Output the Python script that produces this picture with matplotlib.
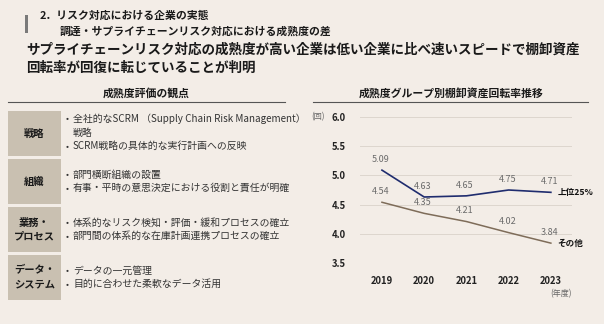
import matplotlib
matplotlib.use("Agg")
import matplotlib.pyplot as plt
from matplotlib.patches import Rectangle

plt.rcParams['font.family'] = ['Noto Sans CJK JP', 'DejaVu Sans']

# ---- data ----
years = [2019, 2020, 2021, 2022, 2023]
top25 = [5.09, 4.63, 4.65, 4.75, 4.71]
others = [4.54, 4.35, 4.21, 4.02, 3.84]
series_names = ["上位25%", "その他"]
yticks = [3.5, 4.0, 4.5, 5.0, 5.5, 6.0]

section_title = "2．リスク対応における企業の実態"
section_sub = "調達・サプライチェーンリスク対応における成熟度の差"
headline = ["サプライチェーンリスク対応の成熟度が高い企業は低い企業に比べ速いスピードで棚卸資産",
            "回転率が回復に転じていることが判明"]
left_header = "成熟度評価の観点"
right_header = "成熟度グループ別棚卸資産回転率推移"
row_labels = ["戦略", "組織", "業務・\nプロセス", "データ・\nシステム"]
row_bullets = [
    ["全社的なSCRM （Supply Chain Risk Management）", "戦略", "SCRM戦略の具体的な実行計画への反映"],
    ["部門横断組織の設置", "有事・平時の意思決定における役割と責任が明確"],
    ["体系的なリスク検知・評価・緩和プロセスの確立", "部門間の体系的な在庫計画連携プロセスの確立"],
    ["データの一元管理", "目的に合わせた柔軟なデータ活用"],
]
# whether a bullet line starts with a bullet mark
row_marks = [[True, False, True], [True, True], [True, True], [True, True]]

BG = "#F3EDE7"
BOX = "#C9C0B1"
NAVY = "#1F2C6E"
BROWN = "#7E6C59"
W, H = 604, 324

fig = plt.figure(figsize=(W / 100, H / 100), dpi=100, facecolor=BG)
ax0 = fig.add_axes([0, 0, 1, 1])
ax0.set_xlim(0, W)
ax0.set_ylim(H, 0)
ax0.axis("off")
ax0.set_facecolor(BG)

# top section title
ax0.add_patch(Rectangle((25, 15), 2.6, 18, color="#7A7A7A", lw=0))
ax0.text(40, 16, section_title, fontsize=7.8, fontweight="bold", va="center", ha="left", color="#1a1a1a")
ax0.text(60, 32, section_sub, fontsize=7.8, fontweight="bold", va="center", ha="left", color="#1a1a1a")
ax0.text(26, 50, headline[0], fontsize=9.75, fontweight="bold", va="center", ha="left", color="#1a1a1a")
ax0.text(26, 68, headline[1], fontsize=9.75, fontweight="bold", va="center", ha="left", color="#1a1a1a")

# headers
ax0.text(146.5, 93, left_header, fontsize=7.8, fontweight="bold", ha="center", va="center", color="#1a1a1a")
ax0.plot([8, 285], [101.5, 101.5], color="#555555", lw=0.8)
ax0.text(451, 93, right_header, fontsize=7.8, fontweight="bold", ha="center", va="center", color="#1a1a1a")
ax0.plot([313, 588], [101.5, 101.5], color="#555555", lw=0.8)

# left table
row_tops = [111, 159, 207, 255]
row_h = 45
line_ys = [[119, 133, 146], [175, 188], [223, 236], [271, 284]]
for lab, top, bullets, marks, ys in zip(row_labels, row_tops, row_bullets, row_marks, line_ys):
    ax0.add_patch(Rectangle((8, top), 53, row_h, color=BOX, lw=0))
    ax0.text(34.5, top + row_h / 2, lab, fontsize=7.4, fontweight="bold", ha="center", va="center",
             color="#1a1a1a", linespacing=1.45)
    for b, m, y in zip(bullets, marks, ys):
        if m:
            ax0.text(66, y, "•", fontsize=6.5, ha="left", va="center", color="#333333")
        ax0.text(73, y, b, fontsize=7.1, ha="left", va="center", color="#333333")

# chart
L, R, T, B = 360, 572, 117, 263
ax = fig.add_axes([L / W, 1 - B / H, (R - L) / W, (B - T) / H])
ax.set_facecolor(BG)
ax.patch.set_alpha(0)
ax.set_ylim(3.5, 6.0)
ax.set_xlim(2018.48, 2023.5)
ax.set_yticks(yticks)
ax.set_yticklabels([f"{v:.1f}" for v in yticks])
ax.set_xticks(years)
ax.set_xticklabels([str(y) for y in years])
for s in ax.spines.values():
    s.set_visible(False)
ax.tick_params(length=0, labelsize=6.8, colors="#222222")
ax.tick_params(axis="y", pad=10)
ax.tick_params(axis="x", pad=9)
for lbl in ax.get_xticklabels() + ax.get_yticklabels():
    lbl.set_fontweight("bold")
ax.grid(axis="y", color="#DDD6CE", lw=0.7)
ax.set_axisbelow(True)

ax.plot(years, top25, color=NAVY, lw=1.2, zorder=3)
ax.plot(years, others, color=BROWN, lw=1.1, zorder=3)
for xs, ys in ((years, top25), (years, others)):
    for x, y in zip(xs, ys):
        ax.annotate(f"{y:.2f}", (x, y), xytext=(-1, 4.5), textcoords="offset points",
                    ha="center", va="bottom", fontsize=6.5, color="#6B6B6B")
ax.annotate(series_names[0], (years[-1], top25[-1]), xytext=(4.5, 0), textcoords="offset points",
            ha="left", va="center", fontsize=6.2, fontweight="bold", color="#111111")
ax.annotate(series_names[1], (years[-1], others[-1]), xytext=(4.5, 0), textcoords="offset points",
            ha="left", va="center", fontsize=6.2, fontweight="bold", color="#111111")

ax0.text(311, 117, "(回)", fontsize=5.8, ha="left", va="center", color="#666666")
ax0.text(550, 294, "(年度)", fontsize=5.8, ha="left", va="center", color="#666666")

fig.savefig("out.png", dpi=100, facecolor=BG)
